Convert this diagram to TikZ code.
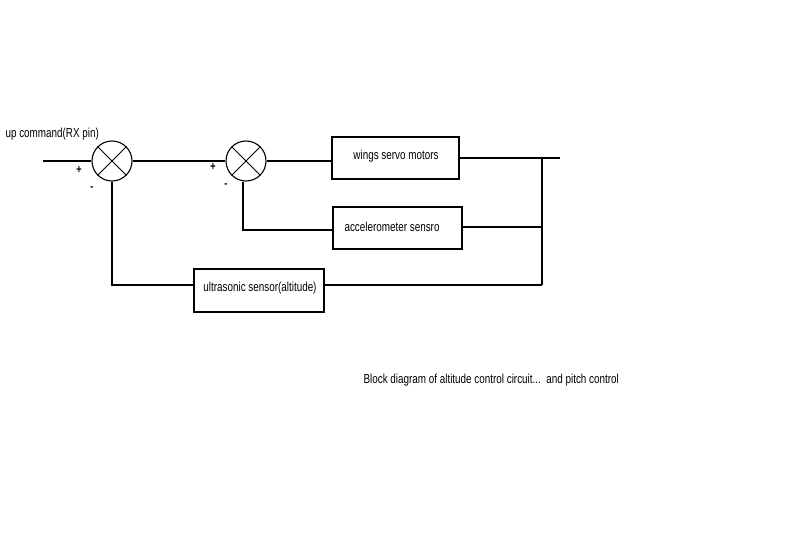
\documentclass[tikz,border=0pt]{standalone}
\usepackage{fontspec}
\setmainfont{Liberation Sans}[FakeStretch=0.76]
\begin{document}
\begin{tikzpicture}[x=1pt,y=-1pt,line width=1.1pt,
  font=\fontsize{13}{15}\selectfont,
  sumj/.style={draw,circle,minimum size=40pt,inner sep=0pt,
    path picture={\draw[line width=0.9pt] (path picture bounding box.north west) -- (path picture bounding box.south east)
      (path picture bounding box.north east) -- (path picture bounding box.south west);}},
  blk/.style={draw,rectangle,inner sep=0pt},
  lbl/.style={inner sep=0pt,anchor=west},
  sgn/.style={inner sep=0pt,font=\fontsize{12}{14}\selectfont\bfseries}]
\useasboundingbox[fill=white] (0,0) rectangle (794,548);
% summing junctions
\node[sumj] (s1) at (112,161) {};
\node[sumj] (s2) at (246,161) {};
% blocks
\node[blk,minimum width=127pt,minimum height=42pt] (wings) at (395.5,158) {};
\node[inner sep=0pt] at (396,156) {wings servo motors};
\node[blk,minimum width=129pt,minimum height=42pt] (acc) at (397.5,228) {};
\node[lbl] at (344,227) {accelerometer sensro};
\node[blk,minimum width=130pt,minimum height=43pt] (ultra) at (259,290.5) {};
\node[inner sep=0pt] at (260,288) {ultrasonic sensor(altitude)};
% coordinates
\coordinate (in) at (43,161);
\coordinate (out) at (560,158);
\coordinate (br) at (542,158);
\coordinate (accj) at (542,227);
\coordinate (ultj) at (542,285);
\coordinate (s2d) at (243,230);
% connectors
\draw (in) -- (s1.west);
\draw (s1.east) -- (s2.west);
\draw (s2.east) -- (wings.west |- s2.east);
\draw (wings.east) -- (out);
\draw (br) -- (ultj);
\draw (acc.east |- accj) -- (accj);
\draw (ultra.east |- ultj) -- (ultj);
\draw (ultra.west |- ultj) -- (s1.south |- ultj) -- (s1.south);
\draw (acc.west |- s2d) -- (s2d) -- (s2.south -| s2d);
% labels
\node[lbl] at (5,134) {up command(RX pin)};
\node[sgn] at (79,170) {+};
\node[sgn] at (92,189) {-};
\node[sgn] at (213,167) {+};
\node[sgn] at (226,186) {-};
\node[lbl] at (363,380) {Block diagram of altitude control circuit...\ \ and pitch control};
\end{tikzpicture}
\end{document}
